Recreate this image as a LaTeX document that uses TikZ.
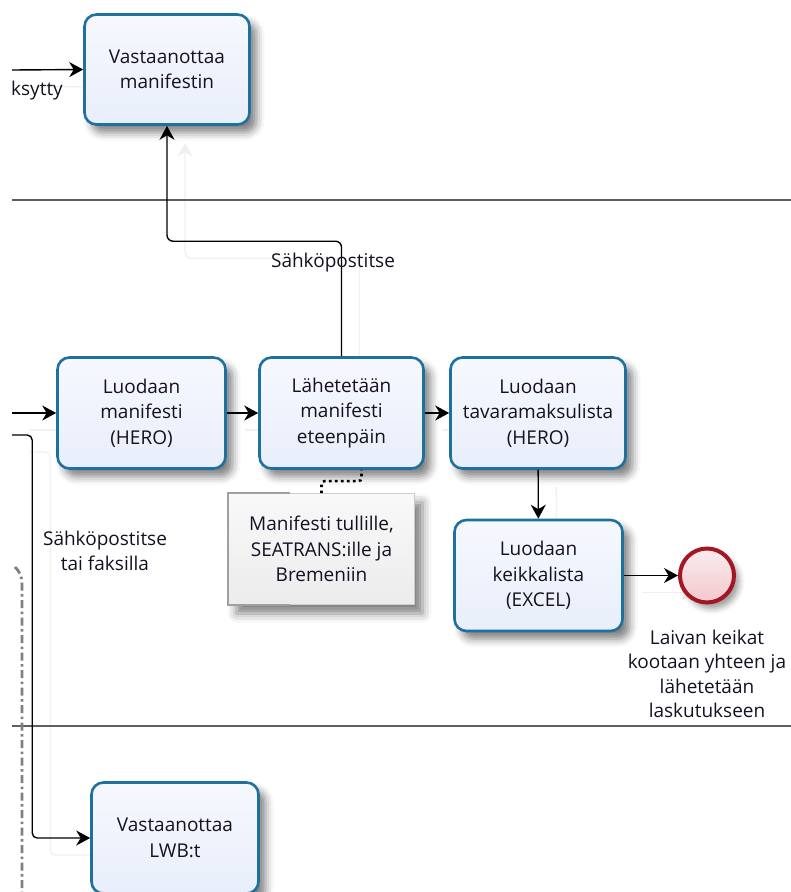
\documentclass[tikz,border=0pt]{standalone}
\usepackage{fontspec}
\setmainfont{Open Sans}
\usetikzlibrary{arrows.meta,shadows.blur,backgrounds}

\definecolor{taskline}{RGB}{30,112,158}
\definecolor{taskfill}{RGB}{232,238,251}
\definecolor{endline}{RGB}{165,22,36}
\definecolor{endfill}{RGB}{242,200,205}
\definecolor{laneline}{RGB}{95,95,95}
\definecolor{inkc}{RGB}{22,16,34}
\definecolor{msggray}{RGB}{128,128,128}

\newcommand\bpmnfont{\fontsize{19}{25.5}\selectfont}

% every sequence flow, drawn once as a faint offset copy and once for real
\newcommand\drawflows{%
  \draw[flow] (inA) -- (recv.west);
  \draw[flow] (inB) -- (mk.west);
  \draw[flow] (mk) -- (send);
  \draw[flow] (send) -- (tariff);
  \draw[flow] (tariff) -- (gig);
  \draw[flow] (gig) -- (end);
  \draw[flow, rounded corners=6pt] (send.north) -- ++(0,-115) -| (recv.south);
  \draw[flow, rounded corners=5pt] (inC) -| ([xshift=-58pt]lwb.west) -- (lwb.west);
}

\begin{document}
\begin{tikzpicture}[x=1pt, y=-1pt,
  every node/.style={font=\bpmnfont, text=inkc},
  task/.style={draw=taskline, line width=2.6pt, rounded corners=12pt,
    top color=taskfill!40!white, bottom color=taskfill, align=center, inner sep=0pt,
    blur shadow={shadow xshift=7pt, shadow yshift=-8pt,
      shadow blur radius=8pt, shadow opacity=50}},
  note/.style={draw=gray!40, line width=0.8pt, top color=gray!5,
    bottom color=gray!15, align=center, inner sep=0pt,
    blur shadow={shadow xshift=8pt, shadow yshift=-9pt,
      shadow blur radius=9pt, shadow opacity=50}},
  notebracket/.style={draw=gray!75, line width=1.8pt},
  endevent/.style={circle, draw=endline, line width=4pt, inner sep=0pt,
    minimum size=54pt, top color=endfill!35!white, bottom color=endfill,
    blur shadow={shadow xshift=5pt, shadow yshift=-6pt,
      shadow blur radius=6pt, shadow opacity=40}},
  flow/.style={draw=black, line width=1.4pt,
    -{Stealth[length=14pt, width=15pt, inset=4.5pt]}},
  assoc/.style={draw=black, line width=2.6pt, dash pattern=on 2.6pt off 3.4pt},
  msgline/.style={draw=msggray, line width=2.8pt,
    dash pattern=on 8pt off 3.5pt on 2.5pt off 3.5pt},
  lane/.style={draw=laneline, line width=1.6pt},
  lbl/.style={align=center, inner sep=0pt}
]
\useasboundingbox (0,0) rectangle (791,892);

% lane separators
\draw[lane] (12,200) -- (791,200);
\draw[lane] (12,726) -- (791,726);

% message flow along the left edge
\draw[msgline] (15,567) .. controls (19,571) and (22,575) .. (22,586) -- (22,900);

% open ends of incoming flows
\coordinate (inA) at (12,70);
\coordinate (inB) at (12,413);
\coordinate (inC) at (12,435);

% activities
\node[task, minimum width=165pt, minimum height=110pt] (recv) at (167,69.5)
  {Vastaanottaa\\manifestin};
\node[task, minimum width=168pt, minimum height=111pt] (mk) at (141.5,413)
  {Luodaan\\manifesti\\(HERO)};
\node[task, minimum width=164pt, minimum height=111pt] (send) at (341.5,413)
  {Lähetetään\\manifesti\\eteenpäin};
\node[task, minimum width=175pt, minimum height=111pt] (tariff) at (538,413)
  {Luodaan\\tavaramaksulista\\(HERO)};
\node[task, minimum width=168pt, minimum height=111pt] (gig) at (538.5,575.5)
  {Luodaan\\keikkalista\\(EXCEL)};
\node[task, minimum width=167pt, minimum height=111pt] (lwb) at (175,838)
  {Vastaanottaa\\LWB:t};

% end event and its caption
\node[endevent] (end) at (707,575.5) {};
\node[lbl, font=\fontsize{19}{24.5}\selectfont] (endlbl) at (707,674)
  {Laivan keikat\\kootaan yhteen ja\\lähetetään\\laskutukseen};

% text annotation with its bracket
\node[note, minimum width=186pt, minimum height=111pt] (note) at (321.5,549)
  {Manifesti tullille,\\SEATRANS:ille ja\\Bremeniin};
\draw[notebracket] ([xshift=62pt]note.north west) -- (note.north west)
  -- (note.south west) -- ([xshift=62pt]note.south west);
\draw[assoc, rounded corners=3pt] (note.north) -- ++(0,-12)
  -| ([xshift=20pt]send.south);

% faint offset copies of the flows, behind everything
\begin{pgfonlayer}{background}
  \begin{scope}[transform canvas={shift={(18pt,-17pt)}},
      flow/.style={draw=black!6, line width=1.4pt,
        -{Stealth[length=14pt, width=15pt, inset=4.5pt]}}]
    \drawflows
  \end{scope}
\end{pgfonlayer}

% sequence flows
\drawflows

% flow labels
\node[lbl, anchor=base west] (lblA) at (11,95) {ksytty};
\node[lbl] (lblB) at (333,263) {Sähköpostitse};
\node[lbl] (lblC) at (105,551) {Sähköpostitse\\tai faksilla};
\end{tikzpicture}
\end{document}
